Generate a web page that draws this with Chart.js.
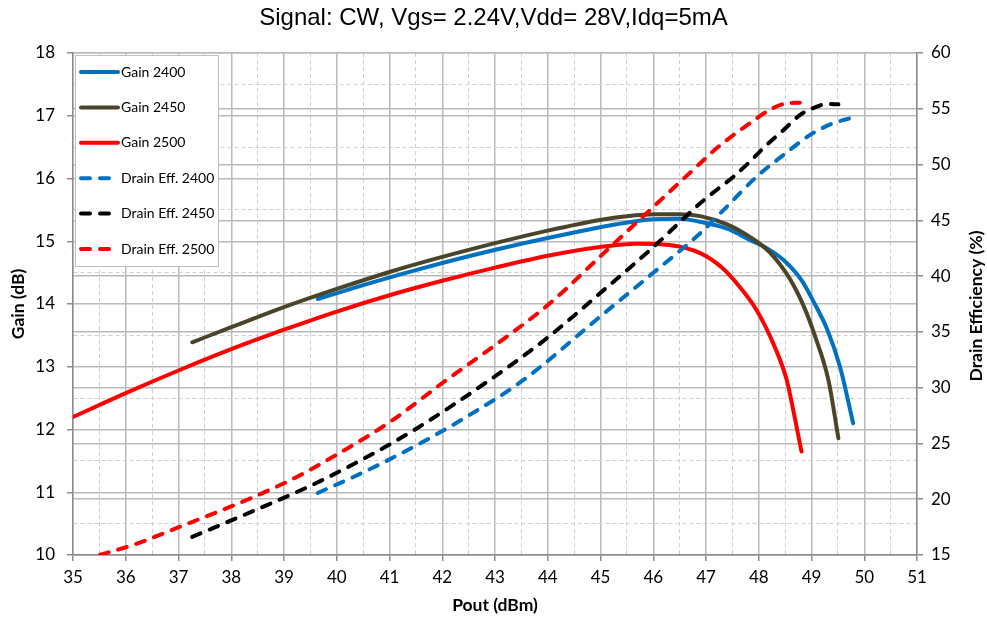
<!DOCTYPE html>
<html><head><meta charset="utf-8">
<script src="https://cdn.jsdelivr.net/npm/chart.js@4.4.1/dist/chart.umd.min.js"></script>
<style>html,body{margin:0;padding:0;background:#fff;} #wrap{width:987px;height:621px;}</style>
</head><body><div id="wrap"><canvas id="c" width="987" height="621"></canvas></div>
<script>
// ---------- text ----------
const chartTitle = 'Signal: CW, Vgs= 2.24V,Vdd= 28V,Idq=5mA';
const xTitle = 'Pout (dBm)';
const yLeftTitle = 'Gain (dB)';
const yRightTitle = 'Drain Efficiency (%)';
const seriesLabels = ['Gain 2400', 'Gain 2450', 'Gain 2500', 'Drain Eff. 2400', 'Drain Eff. 2450', 'Drain Eff. 2500'];

// ---------- data (Pout dBm, Gain dB) ----------
const poutG2400 = [39.64, 40.5, 41.5, 42.5, 43.5, 44.5, 45.3, 46.0, 46.5, 46.89, 47.4, 47.83, 48.15, 48.47, 48.81, 49.05, 49.3, 49.54, 49.79];
const gain2400  = [14.08, 14.30, 14.54, 14.76, 14.96, 15.14, 15.27, 15.35, 15.36, 15.31, 15.20, 15.02, 14.89, 14.70, 14.38, 14.02, 13.59, 13.00, 12.10];

const poutG2450 = [37.26, 38.0, 39.0, 40.0, 41.0, 42.0, 43.0, 44.0, 44.99, 45.5, 46.03, 46.5, 46.89, 47.4, 47.83, 48.2, 48.59, 48.85, 49.07, 49.32, 49.51];
const gain2450  = [13.39, 13.63, 13.95, 14.24, 14.51, 14.75, 14.97, 15.17, 15.34, 15.40, 15.43, 15.43, 15.40, 15.27, 15.07, 14.83, 14.40, 13.97, 13.48, 12.79, 11.86];

const poutG2500 = [35.0, 36.0, 37.0, 38.0, 39.0, 40.0, 41.0, 42.0, 43.0, 44.0, 45.0, 45.7, 46.3, 46.89, 47.3, 47.64, 47.96, 48.27, 48.53, 48.68, 48.81];
const gain2500  = [12.20, 12.58, 12.94, 13.28, 13.59, 13.88, 14.14, 14.37, 14.58, 14.77, 14.91, 14.96, 14.94, 14.81, 14.58, 14.27, 13.90, 13.38, 12.79, 12.20, 11.65];

// ---------- data (Pout dBm, Drain efficiency %) ----------
const poutE2400 = [39.64, 40.5, 41.5, 42.5, 43.54, 44.99, 46.0, 46.89, 47.27, 47.96, 48.47, 48.97, 49.41, 49.73];
const eff2400   = [20.56, 22.4, 24.8, 27.5, 30.69, 36.36, 40.3, 43.84, 45.63, 48.91, 50.86, 52.65, 53.70, 54.15];

const poutE2450 = [37.26, 38.54, 39.5, 40.5, 41.5, 42.9, 44.0, 44.99, 46.0, 46.89, 47.2, 47.52, 47.83, 48.15, 48.47, 48.78, 49.10, 49.29, 49.51];
const eff2450   = [16.62, 19.19, 21.2, 23.6, 26.3, 30.69, 34.5, 38.46, 42.6, 46.53, 47.72, 48.91, 50.26, 51.76, 53.10, 54.44, 55.19, 55.43, 55.40];

const poutE2500 = [35.51, 36.2, 37.03, 38.29, 39.2, 40.0, 41.0, 42.08, 43.0, 44.04, 44.99, 46.0, 46.89, 47.2, 47.52, 47.83, 48.15, 48.47, 48.78];
const eff2500   = [15.0, 16.0, 17.54, 19.93, 21.9, 24.0, 26.9, 30.69, 33.8, 37.56, 41.74, 46.2, 50.11, 51.46, 52.65, 53.70, 54.74, 55.43, 55.55];

// ---------- axes ----------
const xMin = 35, xMax = 51, xStep = 0.5;
const gainMin = 10, gainMax = 18, gainStep = 0.5;
const effMin = 15, effMax = 60, effStep = 5;

// ---------- styles ----------
const colBlue = '#0070C0', colOlive = '#4A452A', colRed = '#FF0000', colBlack = '#000000';
const MAJOR = '#bababa', MINOR = '#cfcfcf', AXIS = '#8c8c8c';
const FONT = 'Lato';

const pts = (xs, ys) => xs.map((x, i) => ({x: x, y: ys[i]}));
const isMajor = (ctx) => ctx.tick && Number.isInteger(ctx.tick.value);

function mk(label, xs, ys, color, axis, dashed, ord) {
  return {
    label: label, data: pts(xs, ys), yAxisID: axis,
    borderColor: color, backgroundColor: color, borderWidth: 4,
    borderDash: dashed ? [9, 10] : [], borderCapStyle: 'round', borderJoinStyle: 'round',
    pointRadius: 0, pointHoverRadius: 0, fill: false,
    tension: 0.4, cubicInterpolationMode: 'monotone', order: ord
  };
}

const datasets = [
  mk(seriesLabels[0], poutG2400, gain2400, colBlue, 'y', false, 6),
  mk(seriesLabels[1], poutG2450, gain2450, colOlive, 'y', false, 5),
  mk(seriesLabels[2], poutG2500, gain2500, colRed, 'y', false, 4),
  mk(seriesLabels[3], poutE2400, eff2400, colBlue, 'y1', true, 3),
  mk(seriesLabels[4], poutE2450, eff2450, colBlack, 'y1', true, 2),
  mk(seriesLabels[5], poutE2500, eff2500, colRed, 'y1', true, 1)
];

const bgPlugin = {
  id: 'bg',
  beforeDraw(chart) {
    const c = chart.ctx; c.save(); c.fillStyle = '#fff'; c.fillRect(0, 0, chart.width, chart.height); c.restore();
  }
};

const legendPlugin = {
  id: 'customLegend',
  afterDatasetsDraw(chart) {
    const c = chart.ctx, a = chart.chartArea;
    const bx = a.left + 2, by = a.top + 2, bw = 143, bh = 211;
    c.save();
    c.fillStyle = '#fff'; c.fillRect(bx, by, bw, bh);
    c.strokeStyle = '#bfbfbf'; c.lineWidth = 1; c.strokeRect(bx + 0.5, by + 0.5, bw, bh);
    chart.data.datasets.forEach((ds, i) => {
      const y = by + 17 + i * 35.4;
      c.beginPath();
      c.setLineDash(ds.borderDash || []);
      c.lineCap = 'round';
      c.strokeStyle = ds.borderColor; c.lineWidth = 4;
      c.moveTo(bx + 6, y); c.lineTo(bx + 43, y); c.stroke();
      c.setLineDash([]);
      c.fillStyle = '#000'; c.font = '14px ' + FONT; c.textBaseline = 'middle'; c.textAlign = 'left';
      c.fillText(ds.label, bx + 46, y);
    });
    c.restore();
  },
  afterDraw(chart) {
    const c = chart.ctx, a = chart.chartArea;
    c.save();
    c.translate(976, (a.top + a.bottom) / 2 + 2);
    c.rotate(-Math.PI / 2);
    c.font = 'bold 17.5px ' + FONT; c.fillStyle = '#000'; c.textAlign = 'center'; c.textBaseline = 'middle';
    c.fillText(yRightTitle, 0, 0);
    c.restore();
  }
};

new Chart(document.getElementById('c'), {
  type: 'line',
  data: { datasets: datasets },
  plugins: [bgPlugin, legendPlugin],
  options: {
    responsive: false, animation: false, devicePixelRatio: 1,
    layout: { padding: 0 },
    plugins: {
      legend: { display: false },
      tooltip: { enabled: false },
      title: { display: true, text: chartTitle, color: '#000',
        font: { family: 'Liberation Sans', size: 24, weight: 'normal', lineHeight: 1.2 },
        padding: { top: 4, bottom: 20.2 } }
    },
    scales: {
      x: {
        type: 'linear', min: xMin, max: xMax,
        afterFit: (s) => { s.height = 66; },
        ticks: { stepSize: xStep, autoSkip: false, maxRotation: 0, minRotation: 0,
          callback: (v) => Number.isInteger(v) ? String(v) : '',
          font: { family: FONT, size: 17 }, color: '#000', padding: 6 },
        grid: { color: (ctx) => isMajor(ctx) ? MAJOR : MINOR, lineWidth: (ctx) => isMajor(ctx) ? 1.5 : 1,
          tickLength: 6, tickColor: (ctx) => isMajor(ctx) ? AXIS : 'rgba(0,0,0,0)' },
        border: { color: AXIS, width: 1.5, dash: (ctx) => (ctx.tick && !Number.isInteger(ctx.tick.value)) ? [4, 3] : [] },
        title: { display: true, text: xTitle, color: '#000', font: { family: FONT, size: 17.5, weight: 'bold' }, padding: { top: 0, bottom: 5 } }
      },
      y: {
        type: 'linear', position: 'left', min: gainMin, max: gainMax,
        afterFit: (s) => { s.width = 73; },
        ticks: { stepSize: gainStep, autoSkip: false,
          callback: (v) => Number.isInteger(v) ? String(v) : '',
          font: { family: FONT, size: 17 }, color: '#000', padding: 12 },
        grid: { color: (ctx) => isMajor(ctx) ? MAJOR : MINOR, lineWidth: (ctx) => isMajor(ctx) ? 1.5 : 1,
          tickLength: 6, tickColor: (ctx) => isMajor(ctx) ? AXIS : 'rgba(0,0,0,0)' },
        border: { color: AXIS, width: 1.5, dash: (ctx) => (ctx.tick && !Number.isInteger(ctx.tick.value)) ? [4, 3] : [] },
        title: { display: true, text: yLeftTitle, color: '#000', font: { family: FONT, size: 17.5, weight: 'bold' }, padding: { top: 8, bottom: 0 } }
      },
      y1: {
        type: 'linear', position: 'right', min: effMin, max: effMax,
        afterFit: (s) => { s.width = 70; },
        ticks: { stepSize: effStep, autoSkip: false, font: { family: FONT, size: 17 }, color: '#000', padding: 8 },
        grid: { color: MAJOR, lineWidth: 1.5, tickLength: 6, tickColor: AXIS },
        border: { color: AXIS, width: 1.5 },
        title: { display: false }
      }
    }
  }
});
</script>
</body></html>
